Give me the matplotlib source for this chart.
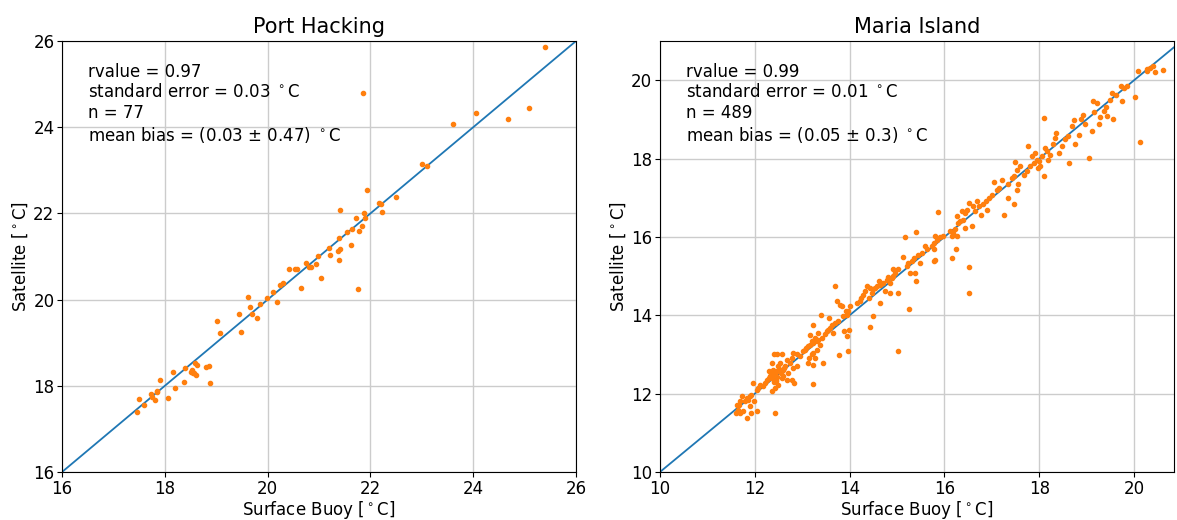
import numpy as np
import matplotlib
matplotlib.use('Agg')
import matplotlib.pyplot as plt

# Port Hacking (buoy, satellite) in degC
ph_buoy = [25.39, 21.85, 23.60, 24.05, 24.68, 25.09, 23.01, 23.11, 21.94, 22.50,
           22.17, 22.21, 22.23, 21.40, 21.88, 21.71, 21.89, 21.84, 21.65, 21.54,
           21.77, 21.38, 21.62, 21.20, 21.40, 21.37, 21.21, 20.98, 21.38, 20.75,
           20.94, 20.81, 20.84, 20.42, 20.53, 20.58, 21.04, 21.76, 20.65, 20.29,
           20.24, 20.10, 19.98, 20.18, 19.61, 19.66, 19.85, 19.70, 19.79, 19.44,
           19.02, 19.07, 19.48, 18.58, 18.63, 18.39, 18.51, 18.54, 18.61, 18.57,
           18.81, 18.86, 18.87, 18.15, 18.38, 17.91, 18.20, 17.85, 17.84, 18.07,
           17.73, 17.76, 17.81, 17.50, 17.59, 17.45, 18.52]
ph_sat = [25.85, 24.80, 24.07, 24.32, 24.19, 24.44, 23.15, 23.10, 22.55, 22.38,
          22.24, 22.21, 22.04, 22.09, 22.00, 21.90, 21.90, 21.71, 21.63, 21.58,
          21.59, 21.43, 21.27, 21.20, 21.17, 21.13, 21.03, 21.02, 20.91, 20.85,
          20.82, 20.75, 20.75, 20.70, 20.71, 20.70, 20.51, 20.25, 20.28, 20.38,
          20.34, 20.17, 20.03, 19.95, 20.06, 19.83, 19.89, 19.66, 19.57, 19.67,
          19.50, 19.22, 19.25, 18.54, 18.49, 18.42, 18.33, 18.29, 18.25, 18.30,
          18.44, 18.46, 18.07, 18.32, 18.09, 18.14, 17.95, 17.89, 17.85, 17.72,
          17.80, 17.73, 17.68, 17.69, 17.55, 17.40, 18.36]

# Maria Island (buoy, satellite) in degC
mi_buoy = [20.08, 20.27, 20.34, 20.39, 20.45, 20.60, 20.28, 20.01, 20.12,
           19.73, 19.78, 19.85, 19.74, 19.61, 19.53, 19.50, 19.41, 19.36, 19.55,
           19.43, 19.29, 19.25, 19.11, 19.04, 19.14, 19.21, 19.15, 18.92, 18.96,
           18.89, 18.73, 18.70, 18.61, 18.83, 18.76, 18.54, 18.47, 18.35, 18.33,
           18.29, 18.42, 18.62, 18.09,
           18.12, 18.16, 18.05, 18.00, 17.95, 17.88, 17.84, 17.91, 17.77, 17.81,
           17.74, 17.67, 18.11, 18.02, 18.19, 18.22, 17.98, 17.60, 17.53, 17.49,
           17.46, 17.42, 17.56, 17.53, 17.47, 17.26, 17.33, 17.35, 17.21, 17.16,
           17.10, 17.05, 17.00, 16.93, 16.88, 16.82, 16.89, 16.78, 16.72, 16.68,
           16.65, 16.60, 16.51, 16.47, 16.43, 16.36, 16.40, 16.33, 16.29, 16.26,
           16.58, 16.43, 16.22, 16.19, 16.15, 16.12, 16.26, 16.24, 16.15, 16.52,
           16.51, 15.87,
           15.98, 15.91, 15.84, 15.78, 15.80, 15.77, 15.73, 15.63, 15.59, 15.52,
           15.45, 15.49, 15.39, 15.17, 15.35, 15.32, 15.24, 15.20, 15.13, 15.28,
           15.38, 15.40, 15.77, 15.80,
           15.03, 14.96, 14.92, 14.89, 14.82, 14.78, 14.85, 14.92, 14.71, 14.64,
           14.61, 14.57, 14.54, 14.50, 14.47, 14.43, 14.36, 14.33, 14.29, 14.25,
           14.22, 14.40, 14.64, 14.50, 15.03, 14.85, 14.74, 15.26, 15.03, 13.69,
           13.92,
           14.15, 14.01, 13.97, 13.94, 13.87, 13.83, 13.80, 13.73, 13.76, 13.69,
           13.62, 13.59, 13.55, 13.52, 13.57, 13.48, 13.66, 13.88, 13.94, 14.42,
           13.99, 13.96, 13.78, 13.39, 13.23,
           13.41, 13.34, 13.31, 13.27, 13.23, 13.20, 13.16, 13.13, 13.09, 13.06,
           13.02, 13.31, 13.23, 13.20, 13.15, 13.27, 13.13, 13.23, 13.43, 13.38,
           13.34, 13.16, 13.23, 12.88, 12.95,
           12.81, 12.78, 12.74, 12.67, 12.64, 12.60, 12.57, 12.53, 12.50, 12.46,
           12.43, 12.39, 12.36, 12.32, 12.29, 12.25, 12.40, 12.46, 12.36, 12.45,
           12.50, 12.36, 12.43, 12.57, 12.67, 12.78, 12.83, 12.71, 12.81, 12.88,
           12.60, 12.29, 12.22, 12.18, 12.11, 12.07, 11.97, 12.43,
           12.38, 12.42, 12.48, 12.52, 12.34, 12.44, 12.55, 12.62, 12.47, 12.41,
           12.04, 11.93, 11.90, 11.86, 11.83, 11.79, 11.90, 11.93, 11.83, 11.72,
           11.69, 11.67, 11.63, 11.60, 11.69, 11.76, 12.04, 11.99, 11.65]
mi_sat = [20.23, 20.24, 20.31, 20.36, 20.21, 20.27, 20.29, 19.56, 18.43,
          19.85, 19.80, 19.86, 19.46, 19.63, 19.68, 19.49, 19.32, 19.21, 19.00,
          19.08, 19.06, 18.87, 18.70, 18.01, 19.46, 19.42, 19.20, 19.12, 18.89,
          19.00, 18.98, 18.83, 18.57, 18.59, 18.36, 18.49, 18.31, 18.66, 18.53,
          18.36, 18.14, 17.89, 19.04,
          18.27, 18.19, 18.06, 17.93, 17.97, 17.89, 18.06, 18.13, 18.33, 17.80,
          17.68, 17.59, 17.55, 17.80, 17.97, 18.10, 17.76, 17.80, 17.72, 17.91,
          17.55, 17.51, 17.34, 17.21, 16.83, 16.55, 17.00, 17.34, 17.46, 17.25,
          17.21, 17.40, 17.08, 17.00, 16.91, 16.83, 16.70, 16.57, 16.78, 16.91,
          16.66, 16.78, 16.87, 16.70, 16.61, 16.66, 16.44, 16.40, 16.36, 16.53,
          16.27, 16.23, 16.19, 16.10, 16.03, 16.14, 16.02, 15.68, 15.46, 15.22,
          14.58, 16.63,
          16.02, 16.00, 15.93, 15.85, 16.02, 15.68, 15.76, 15.68, 15.76, 15.59,
          15.55, 15.34, 16.12, 16.00, 15.46, 15.38, 15.34, 15.25, 15.48, 15.08,
          15.08, 14.87, 15.38, 15.42,
          15.17, 15.08, 15.00, 14.95, 14.98, 14.91, 14.83, 15.17, 14.83, 14.78,
          14.87, 14.74, 14.70, 14.66, 14.57, 14.70, 14.74, 14.61, 14.53, 14.44,
          14.36, 14.44, 14.31, 13.97, 14.57, 14.57, 14.61, 14.16, 13.08, 14.74,
          14.10,
          14.31, 14.23, 14.10, 14.02, 13.97, 14.23, 14.27, 14.36, 13.85, 13.80,
          13.76, 13.68, 13.63, 13.59, 13.93, 13.51, 13.55, 13.59, 13.46, 13.70,
          13.63, 13.08, 12.98, 14.00, 13.74,
          13.42, 13.38, 13.34, 13.42, 13.29, 13.34, 13.25, 13.21, 13.17, 13.12,
          13.08, 13.12, 13.04, 13.00, 12.91, 12.91, 12.78, 12.74, 12.78, 13.25,
          13.55, 13.49, 12.25, 13.00, 12.95,
          13.04, 12.91, 12.78, 12.87, 12.70, 12.61, 13.00, 12.78, 12.70, 12.57,
          12.53, 12.61, 12.49, 12.44, 12.40, 12.36, 13.00, 13.00, 12.78, 12.32,
          12.23, 12.06, 12.14, 12.40, 12.36, 12.36, 12.26, 12.53, 12.65, 12.70,
          12.44, 12.57, 12.27, 12.19, 12.23, 12.14, 12.27, 11.51,
          12.45, 12.50, 12.58, 12.62, 12.40, 12.35, 12.52, 12.66, 12.42, 12.30,
          12.10, 11.97, 11.93, 11.85, 11.89, 11.80, 11.68, 11.51, 11.38, 11.93,
          11.80, 11.72, 11.72, 11.51, 11.51, 11.55, 11.55, 11.80, 11.59]

ph_text = ('rvalue = 0.97\nstandard error = 0.03 $^\\circ$C\nn = 77\n'
           'mean bias = (0.03 $\\pm$ 0.47) $^\\circ$C')
mi_text = ('rvalue = 0.99\nstandard error = 0.01 $^\\circ$C\nn = 489\n'
           'mean bias = (0.05 $\\pm$ 0.3) $^\\circ$C')

fig = plt.figure(figsize=(11.77, 5.2), dpi=100)
ax1 = fig.add_axes([0.0527, 0.0923, 0.4367, 0.8288])
ax2 = fig.add_axes([0.5607, 0.0923, 0.4367, 0.8288])

panels = [
    (ax1, ph_buoy, ph_sat, 'Port Hacking', ph_text, (16, 26), (16, 26), np.arange(16, 27, 2)),
    (ax2, mi_buoy, mi_sat, 'Maria Island', mi_text, (10, 20.84), (10, 21.0), np.arange(10, 21, 2)),
]

for ax, x, y, title, txt, xl, yl, ticks in panels:
    ax.plot([xl[0], yl[1] + 1], [xl[0], yl[1] + 1], color='C0', lw=1.3, zorder=2)
    ax.scatter(x, y, s=9, color='C1', zorder=3)
    ax.set_xlim(*xl)
    ax.set_ylim(*yl)
    ax.set_xticks(ticks)
    ax.set_yticks(ticks)
    ax.grid(True, color='#cccccc', lw=1)
    ax.set_axisbelow(True)
    ax.tick_params(labelsize=12, pad=2)
    ax.set_title(title, fontsize=15)
    ax.set_xlabel('Surface Buoy [$^\\circ$C]', fontsize=12, labelpad=1)
    ax.set_ylabel('Satellite [$^\\circ$C]', fontsize=12, labelpad=2)
    ax.text(0.05, 0.95, txt, transform=ax.transAxes, va='top', ha='left',
            fontsize=12, linespacing=1.2)

fig.savefig('out.png', dpi=100)
